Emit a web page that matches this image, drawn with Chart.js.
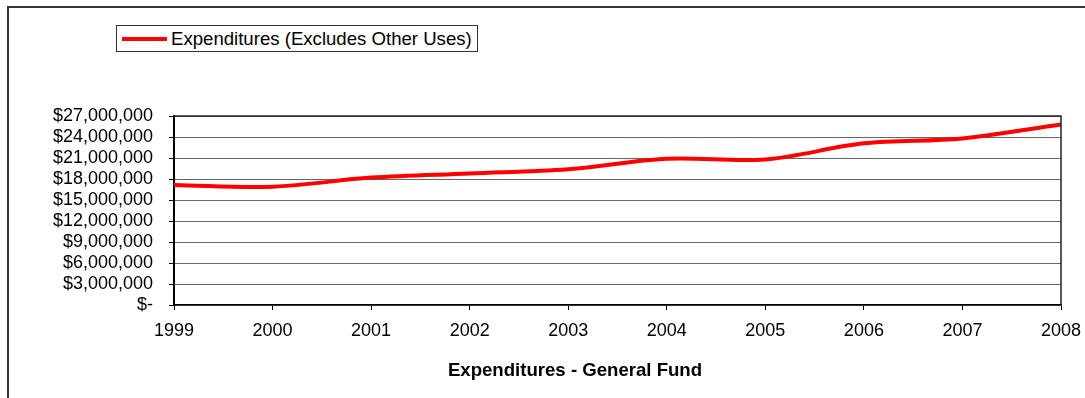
<!DOCTYPE html>
<html>
<head>
<meta charset="utf-8">
<title>Expenditures - General Fund</title>
<script src="https://cdn.jsdelivr.net/npm/chart.js@4"></script>
<style>
  html, body { margin: 0; padding: 0; background: #fff; }
  #wrap { position: relative; width: 1085px; height: 398px; overflow: hidden; }
  #legend {
    position: absolute; left: 116px; top: 25px; height: 27px;
    border: 1px solid #333; background: #fff;
    font: 18.6px "Liberation Sans", Arial, sans-serif; color: #000;
    display: flex; align-items: center; padding: 0 5px 0 5px; box-sizing: border-box;
    white-space: nowrap;
  }
  #legend .swatch { display: inline-block; width: 45px; height: 4px; margin-right: 4px; }
</style>
</head>
<body>
<div id="wrap">
  <canvas id="expChart" width="1085" height="398"></canvas>
  <div id="legend"></div>
</div>
<script>
// fiscal years and general fund expenditures (dollars)
const years = ['1999', '2000', '2001', '2002', '2003', '2004', '2005', '2006', '2007', '2008'];
const expenditures = [17150000, 16900000, 18200000, 18800000, 19400000, 20900000, 20800000, 23100000, 23800000, 25800000];
const seriesLabel = 'Expenditures (Excludes Other Uses)';
const axisTitle = 'Expenditures - General Fund';

const FONT = '"Liberation Sans", Arial, sans-serif';

function dollars(v) {
    if (v === 0) return '$-';
    return '$' + v.toLocaleString('en-US');
}

// outer frame of the sheet, box round the plot area and the caption below
const framePlugin = {
    id: 'frame',
    beforeDraw(chart) {
        const ctx = chart.ctx;
        ctx.save();
        ctx.strokeStyle = '#333';
        ctx.lineWidth = 2;
        ctx.beginPath();
        ctx.moveTo(8, 398);
        ctx.lineTo(8, 7);
        ctx.lineTo(1085, 7);
        ctx.stroke();
        ctx.restore();
    },
    afterDatasetsDraw(chart) {
        const a = chart.chartArea;
        const ctx = chart.ctx;
        ctx.save();
        ctx.strokeStyle = '#222';
        ctx.lineWidth = 1.5;
        ctx.beginPath();
        ctx.moveTo(a.left, a.top);
        ctx.lineTo(a.right, a.top);
        ctx.lineTo(a.right, a.bottom);
        ctx.stroke();
        ctx.restore();
    },
    afterDraw(chart) {
        const ctx = chart.ctx;
        ctx.save();
        ctx.font = 'bold 18.6px ' + FONT;
        ctx.fillStyle = '#000';
        ctx.textAlign = 'center';
        ctx.textBaseline = 'middle';
        ctx.fillText(axisTitle, 575, 371);
        ctx.restore();
    }
};

const ctx = document.getElementById('expChart').getContext('2d');
const chart = new Chart(ctx, {
    type: 'line',
    data: {
        labels: years,
        datasets: [{
            label: seriesLabel,
            data: expenditures,
            borderColor: '#FF0000',
            borderWidth: 4,
            pointRadius: 0,
            tension: 0.35,
            fill: false,
        }]
    },
    options: {
        responsive: false,
        animation: false,
        layout: { padding: { left: 0, right: 24, top: 116, bottom: 0 } },
        plugins: {
            legend: { display: false },
            tooltip: { enabled: false }
        },
        scales: {
            x: {
                offset: false,
                grid: { drawOnChartArea: false, drawTicks: true, tickLength: 5, tickColor: '#000' },
                border: { color: '#000', width: 1.5 },
                ticks: { color: '#000', padding: 10, maxRotation: 0, autoSkip: false, font: { family: FONT, size: 18 } },
                afterFit(scale) {
                    scale.height = 93;
                    scale.paddingLeft = 0;
                    scale.paddingRight = 0;
                }
            },
            y: {
                min: 0,
                max: 27000000,
                grid: { color: '#666', lineWidth: 1, drawTicks: true, tickLength: 5, tickColor: '#000' },
                border: { color: '#000', width: 2 },
                ticks: {
                    stepSize: 3000000,
                    autoSkip: false,
                    color: '#000',
                    padding: 16,
                    font: { family: FONT, size: 18 },
                    callback: (v) => dollars(v)
                },
                afterFit(scale) { scale.width = 174; }
            }
        }
    },
    plugins: [framePlugin]
});

// legend box built from the dataset
const legend = document.getElementById('legend');
chart.data.datasets.forEach(ds => {
    const sw = document.createElement('span');
    sw.className = 'swatch';
    sw.style.background = ds.borderColor;
    legend.appendChild(sw);
    legend.appendChild(document.createTextNode(ds.label));
});
</script>
</body>
</html>
